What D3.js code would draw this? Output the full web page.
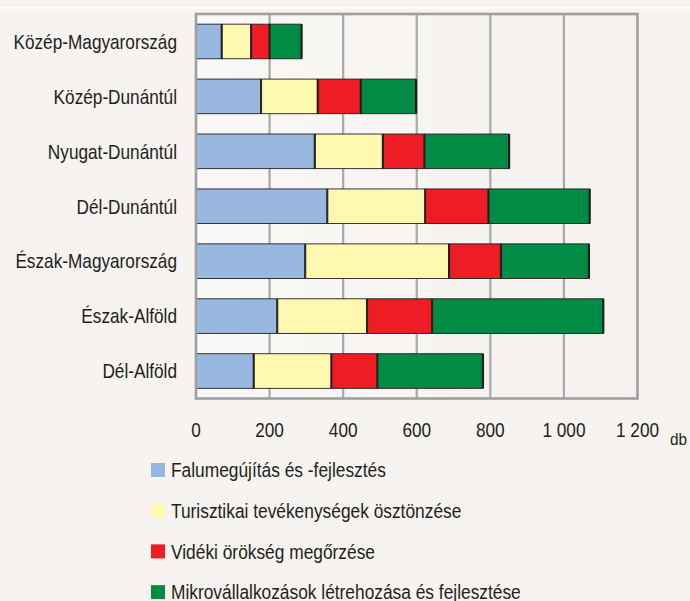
<!DOCTYPE html>
<html><head><meta charset="utf-8">
<script src="https://cdn.jsdelivr.net/npm/d3@7"></script>
<style>
html,body{margin:0;padding:0;background:#f6f3f0;}
svg{display:block;}
text{font-family:"Liberation Sans",Arial,sans-serif;fill:#231f20;}
</style></head><body>
<svg id="c" width="690" height="601"></svg>
<script>
const categories = ["Közép-Magyarország","Közép-Dunántúl","Nyugat-Dunántúl","Dél-Dunántúl","Észak-Magyarország","Észak-Alföld","Dél-Alföld"];
const seriesNames = ["Falumegújítás és -fejlesztés","Turisztikai tevékenységek ösztönzése","Vidéki örökség megőrzése","Mikrovállalkozások létrehozása és fejlesztése"];
const falumegujitas = [70,177,323,357,297,221,157];
const turisztikai = [80,154,185,266,391,244,211];
const orokseg = [50,117,113,172,141,177,125];
const mikrovallalkozas = [87,150,230,275,239,465,287];
const tickValues = [0,200,400,600,800,1000,1200];
const tickLabels = ["0","200","400","600","800","1 000","1 200"];
const unitLabel = "db";
const colors = ["#98b8e0","#fff8b0","#ee1c25","#008c44"];

const svg = d3.select("#c");
const L = 196, R = 637.5, T = 14, B = 398.5;
const NARROW = 0.82;
svg.append("rect").attr("x",0).attr("y",7).attr("width",690).attr("height",1.6).attr("fill","#ffffff");

const x = d3.scaleLinear().domain([0,1200]).range([L,R]);
const y = d3.scaleBand().domain(categories).range([T,B]).paddingInner(0.37).paddingOuter(0.185);

const defs = svg.append("defs");
const grad = defs.append("linearGradient").attr("id","bg").attr("x1",0).attr("x2",1);
grad.append("stop").attr("offset",0).attr("stop-color","#faf8f6");
grad.append("stop").attr("offset",1).attr("stop-color","#f4f1ee");
svg.append("rect").attr("x",L).attr("y",T).attr("width",R-L).attr("height",B-T).attr("fill","url(#bg)");

// grid
svg.append("g").selectAll("line").data(tickValues.slice(1,-1)).join("line")
  .attr("x1",d=>x(d)).attr("x2",d=>x(d)).attr("y1",T).attr("y2",B)
  .attr("stroke","#a7a9ac").attr("stroke-width",2.2);

const data = categories.map((c,i)=>({cat:c, vals:[falumegujitas[i],turisztikai[i],orokseg[i],mikrovallalkozas[i]]}));
const stack = d3.stack().keys([0,1,2,3]).value((d,k)=>d.vals[k]);
const layers = stack(data);

layers.forEach((layer,k)=>{
  svg.append("g").selectAll("rect").data(layer).join("rect")
    .attr("x",d=>x(d[0])+0.5).attr("y",d=>y(d.data.cat))
    .attr("width",d=>x(d[1])-x(d[0])-0.5).attr("height",y.bandwidth())
    .attr("fill",colors[k]).attr("stroke","#231f20").attr("stroke-width",0.9);
  svg.append("g").selectAll("line").data(layer).join("line")
    .attr("x1",d=>x(d[1])).attr("x2",d=>x(d[1]))
    .attr("y1",d=>y(d.data.cat)).attr("y2",d=>y(d.data.cat)+y.bandwidth())
    .attr("stroke","#231f20").attr("stroke-width",2.2);
});

// frame
svg.append("rect").attr("x",L).attr("y",T).attr("width",R-L).attr("height",B-T)
  .attr("fill","none").attr("stroke","#9d9fa2").attr("stroke-width",2.6);

// y labels (condensed)
svg.append("g").selectAll("g").data(categories).join("g")
  .attr("transform",d=>`translate(177,${y(d)+y.bandwidth()/2+7.3}) scale(${NARROW},1)`)
  .append("text").attr("text-anchor","end").attr("font-size",21).text(d=>d);

// x axis labels (condensed)
svg.append("g").selectAll("g").data(tickValues).join("g")
  .attr("transform",d=>`translate(${x(d)},437) scale(${NARROW},1)`)
  .append("text").attr("text-anchor","middle").attr("font-size",21)
  .text((d,i)=>tickLabels[i]);
svg.append("g").attr("transform","translate(670,445) scale(0.9,1)")
  .append("text").attr("font-size",17).text(unitLabel);

// legend
const lg = svg.append("g").selectAll("g").data(seriesNames).join("g")
  .attr("transform",(d,i)=>`translate(151,${463+i*40.7})`);
lg.append("rect").attr("width",14).attr("height",14).attr("fill",(d,i)=>colors[i]);
lg.append("g").attr("transform","translate(20,14.3) scale(0.89,1)")
  .append("text").attr("font-size",19.5).text(d=>d);
</script>
</body></html>
